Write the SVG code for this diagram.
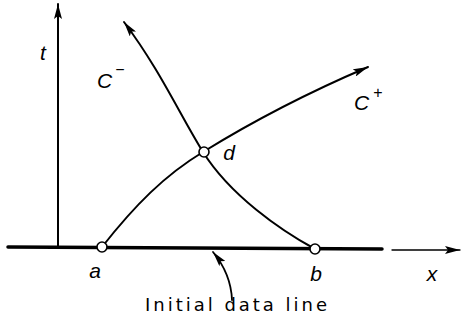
<svg xmlns="http://www.w3.org/2000/svg" width="461" height="322" viewBox="0 0 461 322">
<style>
.ln{fill:none;stroke:#000;stroke-linecap:round}
.lbl{font-family:"Liberation Sans",Arial,sans-serif;font-style:italic;font-size:21px;fill:#000}
.cap{font-family:"DejaVu Sans","Liberation Sans",sans-serif;font-size:18px;fill:#000}
.node{fill:#fff;stroke:#000;stroke-width:1.6}
</style>
<defs>
<marker id="ah" viewBox="0 0 15 8" refX="15" refY="4" markerWidth="15" markerHeight="8" markerUnits="userSpaceOnUse" orient="auto">
<path d="M0,0 L15,4 L0,8 L3,4 z" fill="#000"/>
</marker>
</defs>
<g id="connectors">
<line id="t-axis" class="ln" x1="58" y1="248" x2="58" y2="4" stroke-width="2" marker-end="url(#ah)"/>
<line id="data-line" class="ln" x1="8" y1="247" x2="382" y2="249" stroke-width="3.5" stroke-linecap="butt"/>
<line id="x-axis" class="ln" x1="392" y1="250" x2="460" y2="250" stroke-width="1.3" marker-end="url(#ah)"/>
<path id="c-plus" class="ln" stroke-width="2" d="M102,247 C135,205 165,175 203,152 C250,123 300,96 368,67" marker-end="url(#ah)"/>
<path id="c-minus" class="ln" stroke-width="2" d="M315,249 C280,230 230,195 203,152 C180,115 160,70 124,22" marker-end="url(#ah)"/>
<path id="initial-arrow" class="ln" stroke-width="1.8" d="M232,300 Q231,274 213,252" marker-end="url(#ah)"/>
</g>
<g id="node-a"><circle class="node" cx="102" cy="247" r="5"/><text class="lbl" x="95" y="278" text-anchor="middle">a</text></g>
<g id="node-b"><circle class="node" cx="315" cy="249" r="5"/><text class="lbl" x="316" y="281" text-anchor="middle">b</text></g>
<g id="node-d"><circle class="node" cx="204" cy="152" r="5"/><text class="lbl" x="229" y="160" text-anchor="middle">d</text></g>
<g id="labels">
<text class="lbl" x="43" y="60" text-anchor="middle">t</text>
<text class="lbl" x="432" y="281" text-anchor="middle">x</text>
<text class="lbl" x="97" y="88">C<tspan font-size="16" font-style="normal" dx="3" dy="-13">−</tspan></text>
<text class="lbl" x="354" y="110">C<tspan font-size="16" font-style="normal" dx="4" dy="-12">+</tspan></text>
<text class="cap" x="145" y="311" textLength="182" lengthAdjust="spacing">Initial data line</text>
</g>
</svg>
